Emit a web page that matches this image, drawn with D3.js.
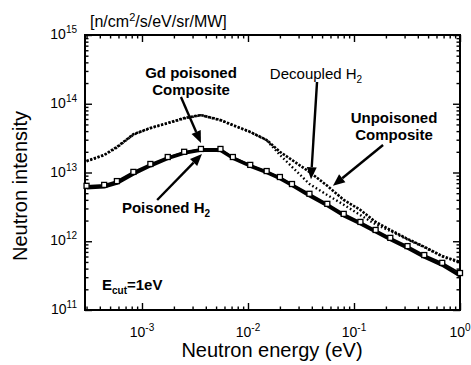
<!DOCTYPE html>
<html>
<head>
<meta charset="utf-8">
<script src="https://cdn.jsdelivr.net/npm/d3@7"></script>
<style>
  body { margin: 0; background: #fff; }
  svg { display: block; font-family: "Liberation Sans", Arial, sans-serif; }
</style>
</head>
<body>
<div id="chart"></div>
<script>
// energy grid (eV) and the four spectra [n/cm2/s/eV/sr/MW]
const energy = [3.0e-4, 4.4e-4, 5.8e-4, 8.3e-4, 1.2e-3, 1.75e-3, 2.5e-3, 3.6e-3, 5.5e-3, 7.2e-3,
  1.05e-2, 1.5e-2, 2.0e-2, 2.6e-2, 3.8e-2, 5.6e-2, 8.0e-2, 0.115, 0.16, 0.22, 0.32, 0.46, 0.68, 1.0];

const unpoisonedComposite = [1.47e13, 1.8e13, 2.35e13, 3.6e13, 4.45e13, 5.25e13, 6.2e13, 6.85e13, 5.8e13, 4.9e13,
  3.9e13, 2.97e13, 2.0e13, 1.52e13, 1.02e13, 6.4e12, 4.0e12, 2.85e12, 1.91e12, 1.46e12, 1.08e12, 8.3e11, 6.1e11, 5.0e11];

const decoupledH2 = [1.45e13, 1.78e13, 2.3e13, 3.55e13, 4.4e13, 5.2e13, 6.1e13, 6.8e13, 5.75e13, 4.85e13,
  3.85e13, 2.95e13, 1.8e13, 1.21e13, 6.8e12, 4.7e12, 3.4e12, 2.4e12, 1.76e12, 1.41e12, 1.06e12, 8.2e11, 6.0e11, 4.85e11];

const gdPoisonedComposite = [6.4e12, 6.6e12, 7.5e12, 1.02e13, 1.33e13, 1.68e13, 2.0e13, 2.2e13, 2.2e13, 1.68e13,
  1.29e13, 1.05e13, 8.6e12, 6.8e12, 4.9e12, 3.5e12, 2.5e12, 1.91e12, 1.46e12, 1.12e12, 8.5e11, 6.3e11, 4.85e11, 3.45e11];

const poisonedH2 = [6.0e12, 6.2e12, 7.0e12, 9.5e12, 1.25e13, 1.6e13, 1.92e13, 2.12e13, 2.1e13, 1.62e13,
  1.24e13, 1.0e13, 8.2e12, 6.5e12, 4.6e12, 3.3e12, 2.36e12, 1.8e12, 1.38e12, 1.06e12, 8.0e11, 5.9e11, 4.5e11, 3.15e11];

const xTickExponents = [-3, -2, -1, 0];
const yTickExponents = [11, 12, 13, 14, 15];

const width = 471;
const height = 365;
const plot = { left: 85, right: 460, top: 35, bottom: 310 };

const svg = d3.select("#chart").append("svg")
  .attr("width", width)
  .attr("height", height);

const x = d3.scaleLog().domain([2.9e-4, 1]).range([plot.left, plot.right]);
const y = d3.scaleLog().domain([1e11, 1e15]).range([plot.bottom, plot.top]);

// minor / major tick values
const xMajor = xTickExponents.map(e => Math.pow(10, e));
const xMinor = x.ticks().filter(v => !xMajor.some(m => Math.abs(m - v) / m < 1e-6));
const yMajor = yTickExponents.map(e => Math.pow(10, e));
const yMinor = y.ticks().filter(v => !yMajor.some(m => Math.abs(m - v) / m < 1e-6));

function tickAxis(axisFn, scale, values, size, transform) {
  const g = svg.append("g")
    .attr("transform", transform)
    .call(axisFn(scale).tickValues(values).tickSize(-size).tickFormat(""));
  g.select(".domain").remove();
  g.selectAll(".tick line").attr("stroke", "#000").attr("stroke-width", 1.4);
}

tickAxis(d3.axisBottom, x, xMinor, 3.5, `translate(0,${plot.bottom})`);
tickAxis(d3.axisBottom, x, xMajor, 7, `translate(0,${plot.bottom})`);
tickAxis(d3.axisTop, x, xMinor, 3.5, `translate(0,${plot.top})`);
tickAxis(d3.axisTop, x, xMajor, 7, `translate(0,${plot.top})`);
tickAxis(d3.axisLeft, y, yMinor, 3.5, `translate(${plot.left},0)`);
tickAxis(d3.axisLeft, y, yMajor, 7, `translate(${plot.left},0)`);
tickAxis(d3.axisRight, y, yMinor, 3.5, `translate(${plot.right},0)`);
tickAxis(d3.axisRight, y, yMajor, 7, `translate(${plot.right},0)`);

// frame
svg.append("rect")
  .attr("x", plot.left)
  .attr("y", plot.top)
  .attr("width", plot.right - plot.left)
  .attr("height", plot.bottom - plot.top)
  .attr("fill", "none")
  .attr("stroke", "#000")
  .attr("stroke-width", 2);

// tick labels with superscripts
xTickExponents.forEach((e) => {
  const t = svg.append("text")
    .attr("x", x(Math.pow(10, e)))
    .attr("y", 337)
    .attr("text-anchor", "middle")
    .attr("font-size", 14);
  t.append("tspan").text("10");
  t.append("tspan").attr("dy", -6).attr("font-size", 10).text(e);
});

yTickExponents.forEach((e) => {
  const t = svg.append("text")
    .attr("x", 77)
    .attr("y", y(Math.pow(10, e)) + 4)
    .attr("text-anchor", "end")
    .attr("font-size", 14);
  t.append("tspan").text("10");
  t.append("tspan").attr("dy", -6).attr("font-size", 10).text(e);
});

// axis titles
svg.append("text")
  .attr("x", 272)
  .attr("y", 357)
  .attr("text-anchor", "middle")
  .attr("font-size", 20)
  .text("Neutron energy (eV)");

svg.append("text")
  .attr("transform", "translate(27,186) rotate(-90)")
  .attr("text-anchor", "middle")
  .attr("font-size", 20)
  .text("Neutron intensity");

const units = svg.append("text")
  .attr("x", 90)
  .attr("y", 27)
  .attr("font-size", 16);
units.append("tspan").text("[n/cm");
units.append("tspan").attr("dy", -6).attr("font-size", 11).text("2");
units.append("tspan").attr("dy", 6).text("/s/eV/sr/MW]");

// curves
const line = d3.line()
  .x(d => x(d[0]))
  .y(d => y(d[1]));

const pairs = (vals) => energy.map((e, i) => [e, vals[i]]);

svg.append("path")
  .datum(pairs(poisonedH2))
  .attr("d", line)
  .attr("fill", "none")
  .attr("stroke", "#000")
  .attr("stroke-width", 3.4)
  .attr("stroke-linejoin", "round");

svg.append("path")
  .datum(pairs(gdPoisonedComposite))
  .attr("d", line)
  .attr("fill", "none")
  .attr("stroke", "#000")
  .attr("stroke-width", 1.8);

svg.selectAll("rect.sq")
  .data(pairs(gdPoisonedComposite))
  .enter()
  .append("rect")
  .attr("class", "sq")
  .attr("x", d => x(d[0]) - 2.5)
  .attr("y", d => y(d[1]) - 2.5)
  .attr("width", 5)
  .attr("height", 5)
  .attr("fill", "#fff")
  .attr("stroke", "#000")
  .attr("stroke-width", 1.3);

svg.append("path")
  .datum(pairs(unpoisonedComposite))
  .attr("d", line)
  .attr("fill", "none")
  .attr("stroke", "#000")
  .attr("stroke-width", 2.6)
  .attr("stroke-dasharray", "2.4,1.4");

svg.append("path")
  .datum(pairs(decoupledH2))
  .attr("d", line)
  .attr("fill", "none")
  .attr("stroke", "#000")
  .attr("stroke-width", 2.4)
  .attr("stroke-dasharray", "1.6,2.4");

// annotation arrows (data coordinates: from -> tip)
const arrows = [
  [[2.33e-3, 1.25e14], [3.6e-3, 2.68e13]],
  [[1.39e-3, 3.98e12], [3.68e-3, 1.86e13]],
  [[4.48e-2, 2.07e14], [3.93e-2, 8.0e12]],
  [[0.188, 2.51e13], [6.33e-2, 6.4e12]]
];

arrows.forEach(([from, to]) => {
  const x1 = x(from[0]), y1 = y(from[1]);
  const x2 = x(to[0]), y2 = y(to[1]);
  const ang = Math.atan2(y2 - y1, x2 - x1);
  const headLen = 12, headW = 5;
  const bx = x2 - headLen * Math.cos(ang), by = y2 - headLen * Math.sin(ang);
  svg.append("line")
    .attr("x1", x1).attr("y1", y1)
    .attr("x2", bx).attr("y2", by)
    .attr("stroke", "#000")
    .attr("stroke-width", 2.4);
  const px = -Math.sin(ang), py = Math.cos(ang);
  svg.append("polygon")
    .attr("points", [
      [x2, y2],
      [bx + px * headW, by + py * headW],
      [bx - px * headW, by - py * headW]
    ].map(p => p.join(",")).join(" "))
    .attr("fill", "#000");
});

// annotation labels
function label(xp, yp, parts, size, weight) {
  const t = svg.append("text")
    .attr("x", xp)
    .attr("y", yp)
    .attr("text-anchor", "middle")
    .attr("font-size", size)
    .attr("font-weight", weight);
  parts.forEach(p => {
    const s = t.append("tspan").text(p.text);
    if (p.dy) s.attr("dy", p.dy);
    if (p.size) s.attr("font-size", p.size);
  });
}

label(191, 78, [{ text: "Gd poisoned" }], 15, "bold");
label(191, 95, [{ text: "Composite" }], 15, "bold");
label(394, 123, [{ text: "Unpoisoned" }], 15, "bold");
label(394, 140, [{ text: "Composite" }], 15, "bold");
label(316, 79, [{ text: "Decoupled H" }, { text: "2", dy: 4, size: 10 }], 15, "normal");
label(166, 213, [{ text: "Poisoned H" }, { text: "2", dy: 4, size: 10 }], 15, "bold");

const ecut = svg.append("text")
  .attr("x", 102)
  .attr("y", 290)
  .attr("font-size", 15)
  .attr("font-weight", "bold");
ecut.append("tspan").text("E");
ecut.append("tspan").attr("dy", 4).attr("font-size", 10).text("cut");
ecut.append("tspan").attr("dy", -4).text("=1eV");
</script>
</body>
</html>
